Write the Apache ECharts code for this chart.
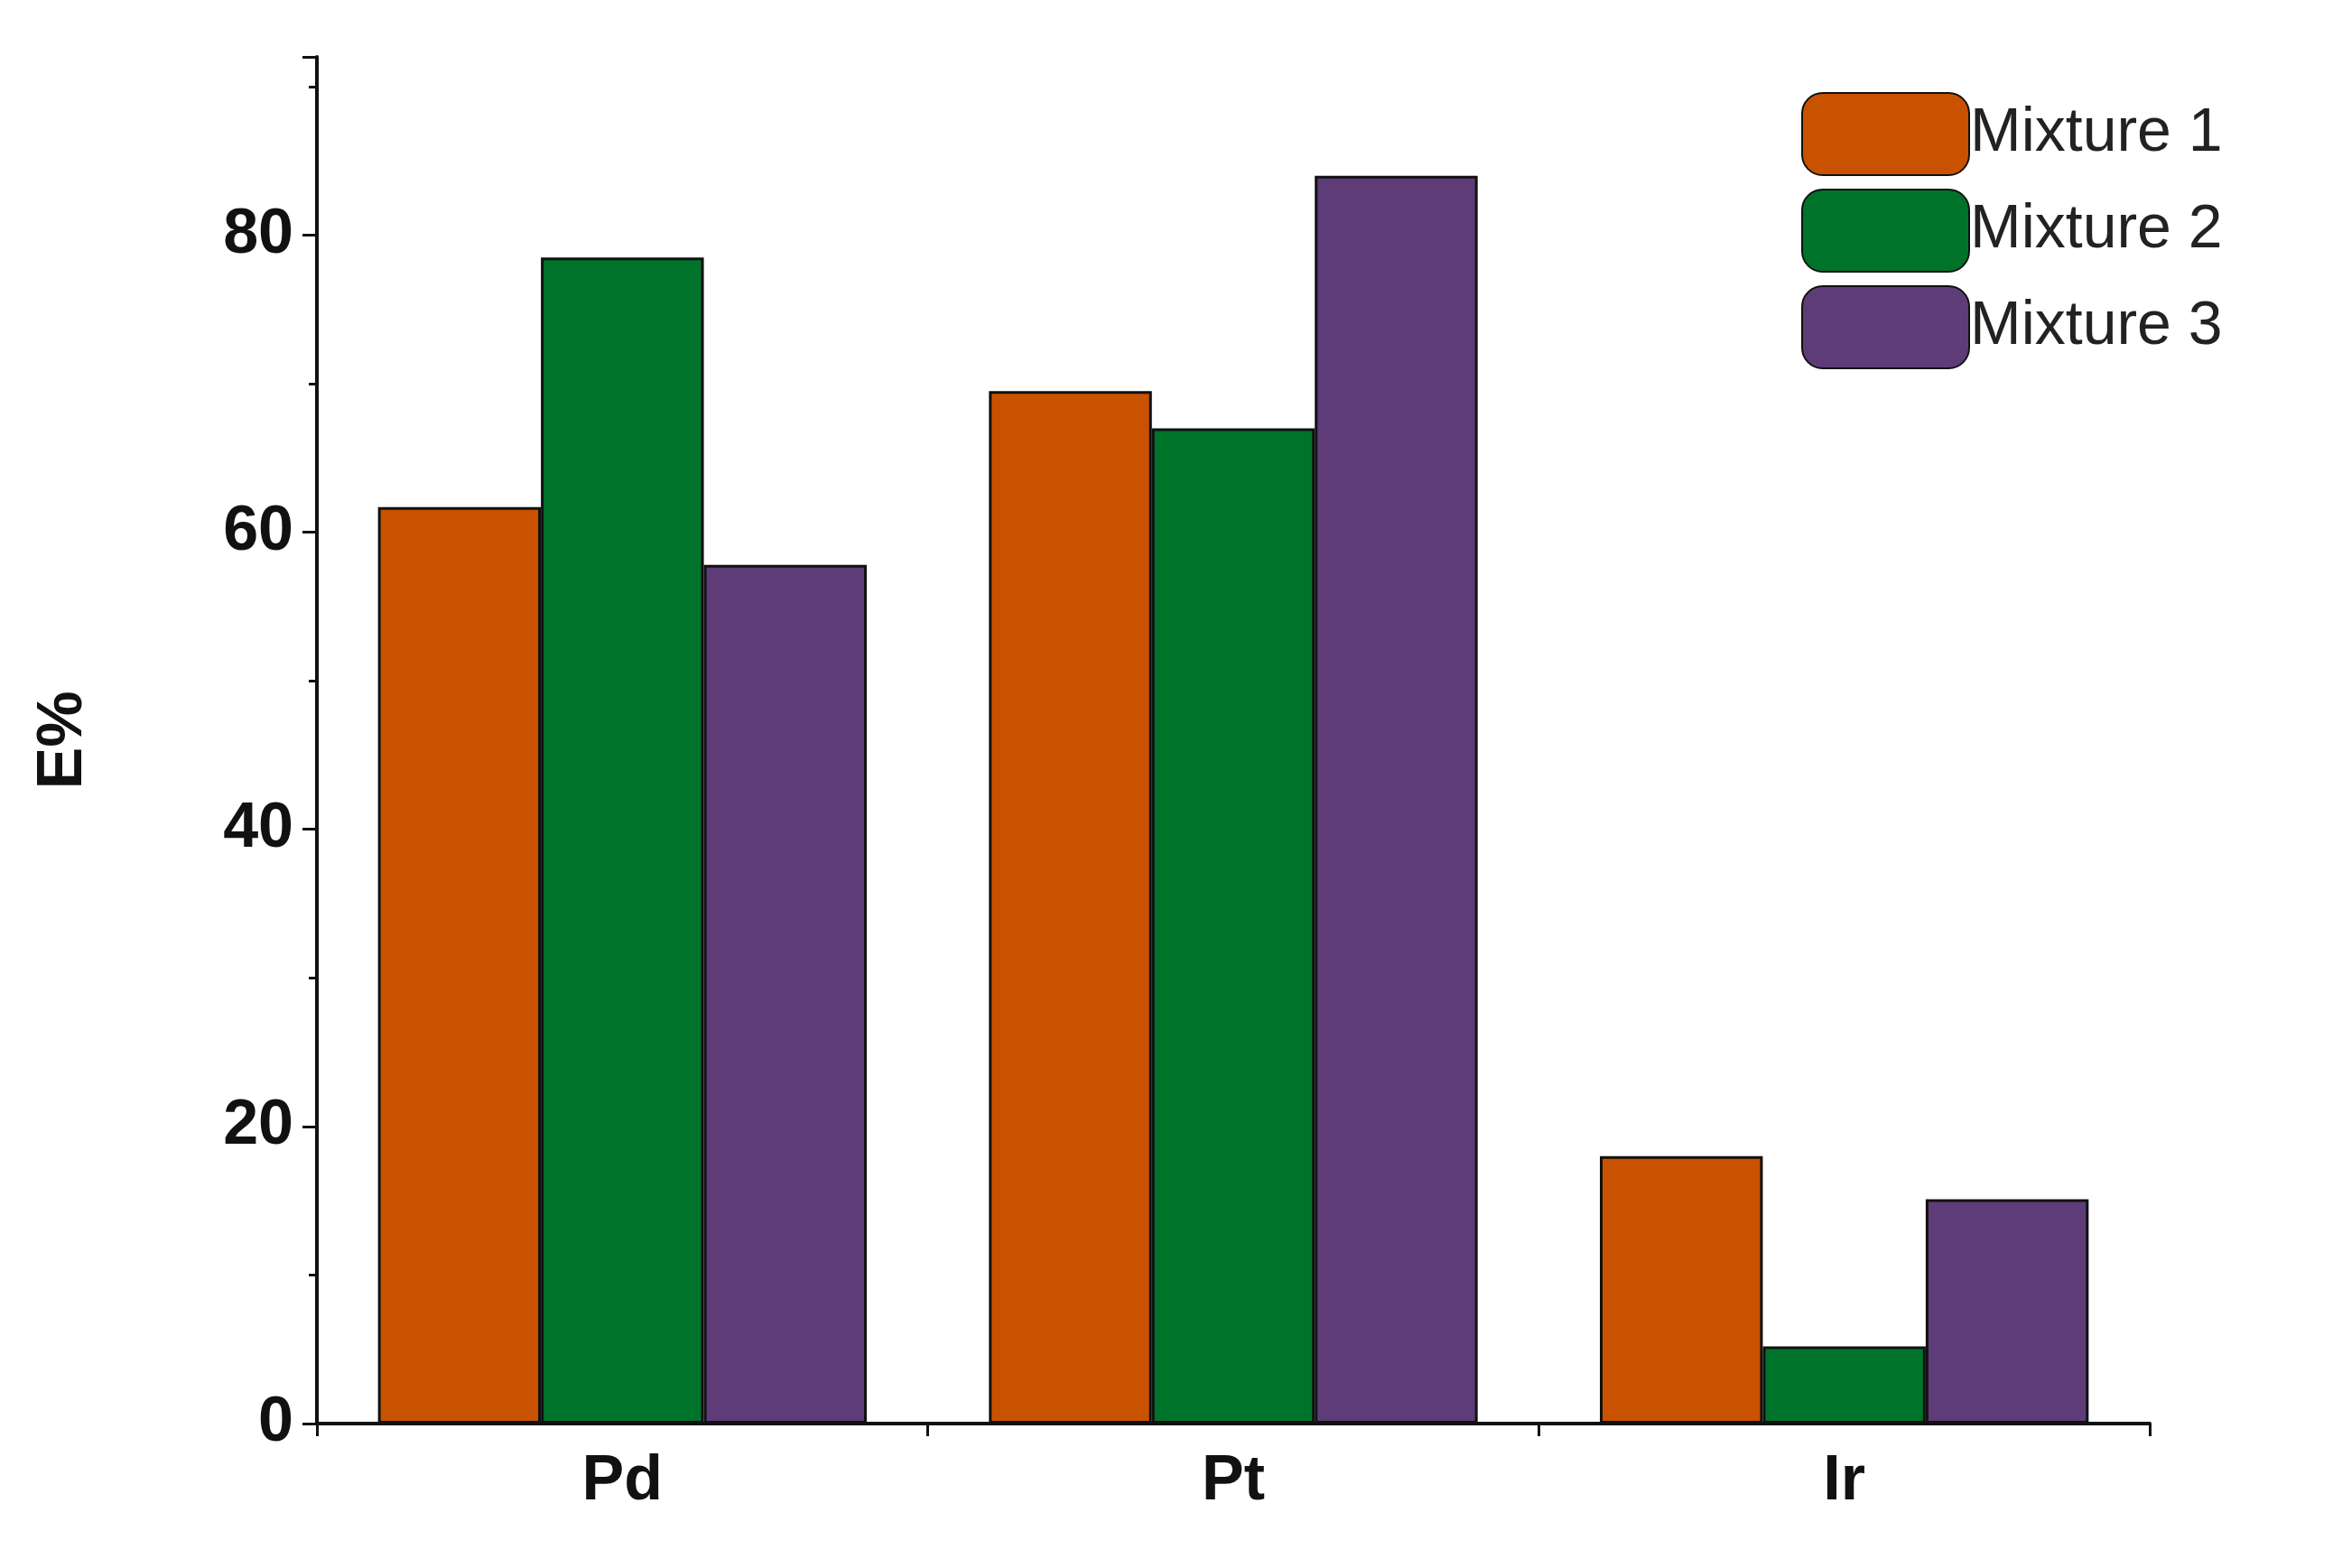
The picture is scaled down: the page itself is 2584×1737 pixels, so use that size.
<!DOCTYPE html>
<html><head><meta charset="utf-8">
<script src="https://cdn.jsdelivr.net/npm/echarts@6/dist/echarts.min.js"></script>
<style>html,body{margin:0;background:#fff}#c{width:2584px;height:1737px}</style>
</head><body><div id="c"></div>
<script>
const categories = ['Pd', 'Pt', 'Ir'];
const seriesNames = ['Mixture 1', 'Mixture 2', 'Mixture 3'];
const mixture1 = [61.7, 69.5, 18.0];
const mixture2 = [78.5, 67.0, 5.2];
const mixture3 = [57.8, 84.0, 15.1];
const colors = ['#C85200', '#00732A', '#5E3C78'];
const data = [mixture1, mixture2, mixture3];
const chart = echarts.init(document.getElementById('c'));
const font = 'Liberation Sans, Arial, sans-serif';
chart.setOption({
  animation: false,
  grid: {left: 351, right: 203, top: 63, bottom: 160},
  legend: {
    orient: 'vertical', left: 1990, top: 97, itemWidth: 185, itemHeight: 91, itemGap: 14,
    textStyle: {fontSize: 68, fontFamily: font, color: '#222', padding: [0,0,0,-4]},
    data: seriesNames
  },
  xAxis: {
    type: 'category', data: categories,
    axisLine: {lineStyle: {color: '#111', width: 4}},
    axisTick: {show: true, inside: false, length: 14, lineStyle: {width: 3}},
    axisLabel: {fontSize: 70, fontWeight: 'bold', fontFamily: font, color: '#111', margin: 30}
  },
  yAxis: {
    type: 'value', min: 0, max: 92, interval: 20,
    name: 'E%', nameLocation: 'middle', nameGap: 245, nameRotate: 90,
    nameTextStyle: {fontSize: 70, fontWeight: 'bold', fontFamily: font, color: '#111'},
    axisLine: {show: true, lineStyle: {color: '#111', width: 4}},
    axisTick: {show: true, length: 16, lineStyle: {width: 3}},
    minorTick: {show: true, splitNumber: 2, length: 9, lineStyle: {color: '#111', width: 3}},
    splitLine: {show: false},
    axisLabel: {fontSize: 70, fontWeight: 'bold', fontFamily: font, color: '#111', margin: 26, showMaxLabel: false}
  },
  series: data.map((d, i) => ({
    name: seriesNames[i], type: 'bar', data: d,
    barGap: '0%', barCategoryGap: '20%',
    itemStyle: {color: colors[i], borderColor: '#111', borderWidth: 3}
  }))
});
</script></body></html>
